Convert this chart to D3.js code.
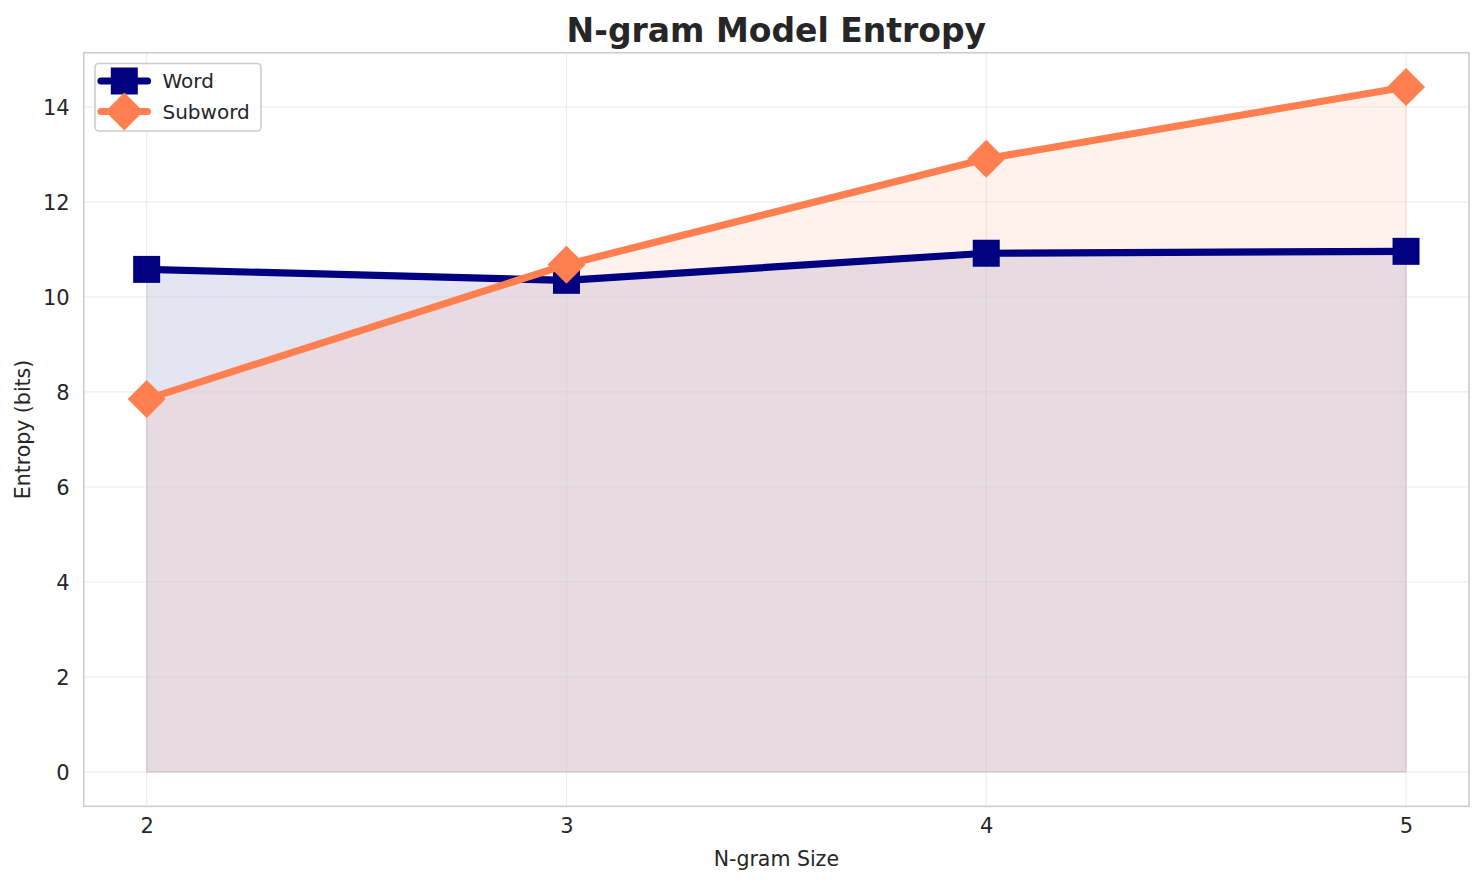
<!DOCTYPE html>
<html>
<head>
<meta charset="utf-8">
<script src="https://cdn.jsdelivr.net/npm/d3@7"></script>
<style>
  html, body { margin: 0; padding: 0; background: #fff; }
  svg { display: block; font-family: "DejaVu Sans", sans-serif; }
</style>
</head>
<body>
<svg id="chart" width="1484" height="885"></svg>
<script>
// ---- data ----
const ngramSizes = [2, 3, 4, 5];
const wordEntropy = [10.58, 10.35, 10.92, 10.96];
const subwordEntropy = [7.85, 10.68, 12.91, 14.42];
const xTicks = [2, 3, 4, 5];
const yTicks = [0, 2, 4, 6, 8, 10, 12, 14];
const seriesNames = ["Word", "Subword"];

const series = [
  { name: seriesNames[0], values: wordEntropy, color: "#000080", marker: "square" },
  { name: seriesNames[1], values: subwordEntropy, color: "#FF7F50", marker: "diamond" }
];

const svg = d3.select("#chart");
const L = 83.7, R = 1469, T = 52.7, B = 806.3;

// matplotlib-style 5% margins
const xMin = d3.min(ngramSizes), xMax = d3.max(ngramSizes);
const xPad = (xMax - xMin) * 0.05;
const allY = [0, ...wordEntropy, ...subwordEntropy];
const yMin = d3.min(allY), yMax = d3.max(allY);
const yPad = (yMax - yMin) * 0.05;

const x = d3.scaleLinear().domain([xMin - xPad, xMax + xPad]).range([L, R]);
const y = d3.scaleLinear().domain([yMin - yPad, yMax + yPad]).range([B, T]);

const textColor = "#262626";

// fills
series.forEach(s => {
  const area = d3.area()
    .x((d, i) => x(ngramSizes[i]))
    .y0(y(0))
    .y1(d => y(d));
  svg.append("path")
    .datum(s.values)
    .attr("d", area)
    .attr("fill", s.color)
    .attr("fill-opacity", 0.1)
    .attr("stroke", s.color)
    .attr("stroke-opacity", 0.1)
    .attr("stroke-width", 1.5);
});

// grid (on top of fills)
const grid = svg.append("g");
yTicks.forEach(t => {
  grid.append("line")
    .attr("x1", L).attr("x2", R)
    .attr("y1", y(t)).attr("y2", y(t))
    .attr("stroke", "#cccccc").attr("stroke-opacity", 0.35).attr("stroke-width", 1.2);
});
xTicks.forEach(t => {
  grid.append("line")
    .attr("y1", T).attr("y2", B)
    .attr("x1", x(t)).attr("x2", x(t))
    .attr("stroke", "#cccccc").attr("stroke-opacity", 0.35).attr("stroke-width", 1.2);
});

// markers
function markerPath(type) {
  if (type === "square") {
    const h = 13.5;
    return `M${-h},${-h}L${h},${-h}L${h},${h}L${-h},${h}Z`;
  } else {
    const h = 19;
    return `M0,${-h}L${h},0L0,${h}L${-h},0Z`;
  }
}

// lines + markers
series.forEach(s => {
  const line = d3.line()
    .x((d, i) => x(ngramSizes[i]))
    .y(d => y(d));
  svg.append("path")
    .datum(s.values)
    .attr("d", line)
    .attr("fill", "none")
    .attr("stroke", s.color)
    .attr("stroke-width", 7.2)
    .attr("stroke-linejoin", "round")
    .attr("stroke-linecap", "round");
  svg.append("g").selectAll("path")
    .data(s.values)
    .join("path")
    .attr("transform", (d, i) => `translate(${x(ngramSizes[i])},${y(d)})`)
    .attr("d", markerPath(s.marker))
    .attr("fill", s.color);
});

// spines
svg.append("rect")
  .attr("x", L).attr("y", T)
  .attr("width", R - L).attr("height", B - T)
  .attr("fill", "none")
  .attr("stroke", "#cccccc")
  .attr("stroke-width", 1.6);

// axes (using d3 axes, styled)
const xAxis = svg.append("g")
  .attr("transform", `translate(0,${B})`)
  .call(d3.axisBottom(x).tickValues(xTicks).tickFormat(d3.format("d")).tickSize(0).tickPadding(12));
xAxis.select(".domain").remove();
xAxis.selectAll("text")
  .attr("fill", textColor)
  .style("font-size", "21px")
  .style("font-family", "DejaVu Sans");

const yAxis = svg.append("g")
  .attr("transform", `translate(${L},0)`)
  .call(d3.axisLeft(y).tickValues(yTicks).tickFormat(d3.format("d")).tickSize(0).tickPadding(14));
yAxis.select(".domain").remove();
yAxis.selectAll("text")
  .attr("fill", textColor)
  .attr("dy", "0.35em")
  .style("font-size", "21px")
  .style("font-family", "DejaVu Sans");

// axis labels
svg.append("text")
  .attr("x", (L + R) / 2)
  .attr("y", 866)
  .attr("text-anchor", "middle")
  .attr("fill", textColor)
  .style("font-size", "20.5px")
  .text("N-gram Size");

svg.append("text")
  .attr("transform", `translate(30,${(T + B) / 2}) rotate(-90)`)
  .attr("text-anchor", "middle")
  .attr("fill", textColor)
  .style("font-size", "20.5px")
  .text("Entropy (bits)");

// title
svg.append("text")
  .attr("x", (L + R) / 2)
  .attr("y", 42)
  .attr("text-anchor", "middle")
  .attr("fill", textColor)
  .style("font-size", "33px")
  .style("font-weight", "bold")
  .text("N-gram Model Entropy");

// legend
const lg = svg.append("g");
lg.append("rect")
  .attr("x", 95).attr("y", 63.5)
  .attr("width", 166).attr("height", 67.5)
  .attr("rx", 4).attr("ry", 4)
  .attr("fill", "#ffffff").attr("fill-opacity", 0.8)
  .attr("stroke", "#cccccc").attr("stroke-width", 1.6);
const rowY = [81, 111.5];
series.forEach((s, i) => {
  lg.append("line")
    .attr("x1", 101).attr("x2", 147.5)
    .attr("y1", rowY[i]).attr("y2", rowY[i])
    .attr("stroke", s.color).attr("stroke-width", 7.2)
    .attr("stroke-linecap", "round");
  lg.append("path")
    .attr("transform", `translate(124.3,${rowY[i]})`)
    .attr("d", markerPath(s.marker))
    .attr("fill", s.color);
  lg.append("text")
    .attr("x", 162.5).attr("y", rowY[i])
    .attr("dy", "0.35em")
    .attr("fill", textColor)
    .style("font-size", "20px")
    .text(s.name);
});
</script>
</body>
</html>
